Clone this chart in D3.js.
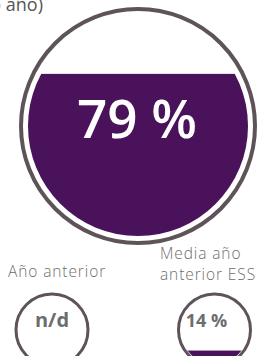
<!DOCTYPE html>
<html>
<head>
<meta charset="utf-8">
<script src="https://cdn.jsdelivr.net/npm/d3@7"></script>
<style>
  body { margin: 0; background: #fff; overflow: hidden; }
  svg { display: block; }
</style>
</head>
<body>
<svg id="chart" width="258" height="356"></svg>
<script>
// Values
const mainValue = 79;
const mainLabel = "(último año)";
const smallLabels = [["Año anterior"], ["Media año", "anterior ESS"]];
const smallValues = [null, 14];

const purple = "#4a125b";
const ring = "#5e5359";
const grey = "#6d6d6d";
const font = "'Open Sans', sans-serif";

let svg = d3.select("#chart");
let defs = svg.append("defs");

// height of the fill (measured from bottom) that covers a given share of the circle area
function fillHeight(pct, r) {
    let f = pct / 100;
    let lo = 0, hi = 2 * r;
    for (let i = 0; i < 50; i++) {
        let h = (lo + hi) / 2;
        let d = r - h;
        let a = r * r * Math.acos(d / r) - d * Math.sqrt(r * r - d * d);
        if (a / (Math.PI * r * r) < f) lo = h; else hi = h;
    }
    return (lo + hi) / 2;
}

function drawGauge(id, cx, cy, rOuter, strokeW, rFill, pct) {
    let g = svg.append("g");
    g.append("circle")
        .attr("cx", cx).attr("cy", cy).attr("r", rOuter - strokeW / 2)
        .attr("fill", "#fff")
        .attr("stroke", ring)
        .attr("stroke-width", strokeW);
    if (pct == null) return g;
    // y scale across the inner circle, 0 = bottom, 2r = top
    let y = d3.scaleLinear().domain([0, 2 * rFill]).range([cy + rFill, cy - rFill]);
    defs.append("clipPath").attr("id", id)
        .append("circle").attr("cx", cx).attr("cy", cy).attr("r", rFill);
    let h = fillHeight(pct, rFill);
    g.append("rect")
        .attr("clip-path", "url(#" + id + ")")
        .attr("x", cx - rFill)
        .attr("width", 2 * rFill)
        .attr("y", y(h))
        .attr("height", y(0) - y(h))
        .attr("fill", purple);
    return g;
}

// partial title at top left (cut by the top edge, as in the original)
svg.append("text")
    .attr("x", 43).attr("y", 11)
    .attr("text-anchor", "end")
    .attr("font-family", font)
    .attr("font-size", 18)
    .attr("fill", "#555")
    .text(mainLabel);

// big gauge
let big = drawGauge("clipBig", 138, 126, 119, 4, 110, mainValue);
big.append("text")
    .attr("x", 137).attr("y", 138)
    .attr("text-anchor", "middle")
    .attr("font-family", font)
    .attr("font-weight", 600)
    .attr("font-size", 53)
    .attr("fill", "#fff")
    .text(mainValue + " %");

// small gauges
let sx = d3.scalePoint().domain(d3.range(smallValues.length)).range([52, 214.5]);

smallValues.forEach((v, i) => {
    let cx = sx(i);
    let lines = smallLabels[i];
    let t = svg.append("text")
        .attr("font-family", font)
        .attr("font-weight", 300)
        .attr("font-size", 15.5)
        .attr("letter-spacing", 0.9)
        .attr("fill", grey);
    lines.forEach((ln, j) => {
        t.append("tspan")
            .attr("x", i === 0 ? 8 : 160)
            .attr("y", 277 + (lines.length > 1 ? (j - 1) * 21 + 3 : 0))
            .text(ln);
    });
    let g = drawGauge("clipSmall" + i, cx, 330, 37.5, 3, 34, v);
    g.append("text")
        .attr("x", v == null ? cx : cx - 8).attr("y", 327)
        .attr("text-anchor", "middle")
        .attr("font-family", font)
        .attr("font-weight", 700)
        .attr("font-size", v == null ? 20 : 18)
        .attr("fill", grey)
        .text(v == null ? "n/d" : v + " %");
});
</script>
</body>
</html>
